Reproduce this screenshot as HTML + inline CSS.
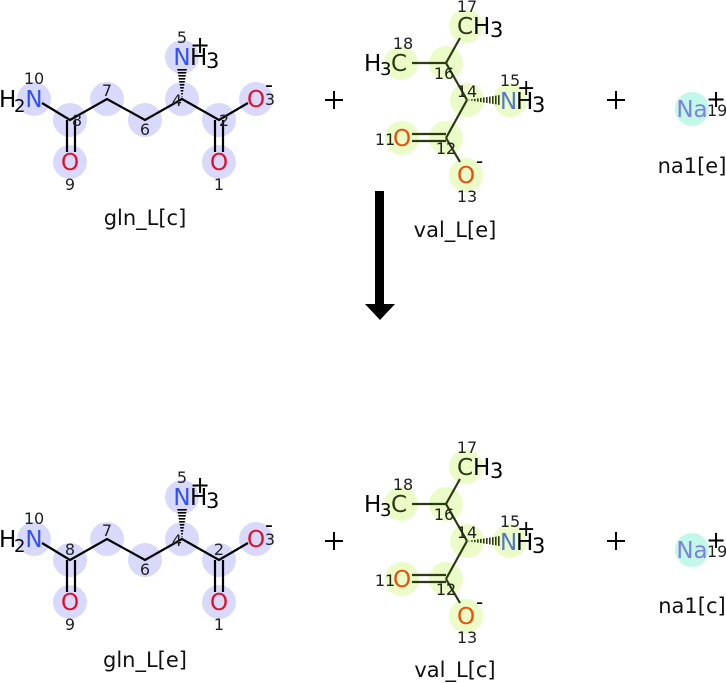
<!DOCTYPE html>
<html><head><meta charset="utf-8"><style>
html,body{margin:0;padding:0;background:#fff;}
svg{display:block;font-family:"DejaVu Sans","Liberation Sans",sans-serif;}
.a{font-size:23px;text-anchor:middle;}
.n{font-size:16px;fill:#222;text-anchor:middle;}
.lbl{font-size:21px;fill:#111;text-anchor:middle;}
.gc{fill:#d9d9fb;} .vc{fill:#ebfcc8;}
</style></head><body>
<svg width="726" height="683" viewBox="0 0 726 683" xmlns="http://www.w3.org/2000/svg">
<defs>
<pattern id="hz" width="2" height="3" patternUnits="userSpaceOnUse"><rect width="2" height="1.6" fill="#000"/></pattern>
<pattern id="vt" width="3" height="2" patternUnits="userSpaceOnUse"><rect width="1.6" height="2" fill="#2b3a10"/></pattern>
</defs>

<!-- ===== gln top ===== -->
<g>
<g class="gc">
<circle cx="34" cy="99" r="17"/><circle cx="70" cy="120" r="17"/><circle cx="107" cy="99" r="17"/>
<circle cx="145" cy="120" r="17"/><circle cx="182" cy="99" r="17"/><circle cx="182" cy="57" r="17"/>
<circle cx="219" cy="120" r="17"/><circle cx="256" cy="99" r="17"/><circle cx="70" cy="162" r="17"/><circle cx="219" cy="162" r="17"/>
</g>
<g stroke="#000" stroke-width="2.2" fill="none">
<polyline points="42,103 70,120 107,99 145,120 182,99 219,120 248,103"/>
<line x1="67" y1="120" x2="67" y2="152"/><line x1="75" y1="120" x2="75" y2="152"/>
<line x1="215" y1="120" x2="215" y2="152"/><line x1="223" y1="120" x2="223" y2="152"/>
</g>
<polygon points="182,99 177,68 187,68" fill="url(#hz)"/>
<text class="a" x="34" y="107" fill="#3050f8">N</text><text x="-1" y="107" font-size="23">H</text><text x="14" y="112" font-size="18">2</text>
<text class="a" x="182" y="65" fill="#3050f8">N</text><text x="190" y="65" font-size="23">H</text><text x="206" y="68" font-size="21">3</text>
<text x="190" y="53" font-size="24">+</text>
<text class="a" x="256" y="107" fill="#e0102a">O</text><text x="265" y="92" font-size="22">-</text>
<text class="a" x="70" y="170" fill="#e0102a">O</text><text class="a" x="219" y="170" fill="#e0102a">O</text>
<text class="n" x="34" y="84">10</text><text class="n" x="77" y="126">8</text><text class="n" x="107" y="96">7</text>
<text class="n" x="145" y="135">6</text><text class="n" x="177" y="106">4</text><text class="n" x="182" y="43">5</text>
<text class="n" x="224" y="126">2</text><text class="n" x="270" y="105">3</text><text class="n" x="70" y="190">9</text><text class="n" x="219" y="190">1</text>
<text class="lbl" x="145" y="225">gln_L[c]</text>
</g>

<!-- ===== gln bottom ===== -->
<g transform="translate(0,440)">
<g class="gc">
<circle cx="34" cy="99" r="17"/><circle cx="70" cy="120" r="17"/><circle cx="107" cy="99" r="17"/>
<circle cx="145" cy="120" r="17"/><circle cx="182" cy="99" r="17"/><circle cx="182" cy="57" r="17"/>
<circle cx="219" cy="120" r="17"/><circle cx="256" cy="99" r="17"/><circle cx="70" cy="162" r="17"/><circle cx="219" cy="162" r="17"/>
</g>
<g stroke="#000" stroke-width="2.2" fill="none">
<polyline points="42,103 70,120 107,99 145,120 182,99 219,120 248,103"/>
<line x1="67" y1="120" x2="67" y2="152"/><line x1="75" y1="120" x2="75" y2="152"/>
<line x1="215" y1="120" x2="215" y2="152"/><line x1="223" y1="120" x2="223" y2="152"/>
</g>
<polygon points="182,99 177,68 187,68" fill="url(#hz)"/>
<text class="a" x="34" y="107" fill="#3050f8">N</text><text x="-1" y="107" font-size="23">H</text><text x="14" y="112" font-size="18">2</text>
<text class="a" x="182" y="65" fill="#3050f8">N</text><text x="190" y="65" font-size="23">H</text><text x="206" y="68" font-size="21">3</text>
<text x="190" y="53" font-size="24">+</text>
<text class="a" x="256" y="107" fill="#e0102a">O</text><text x="265" y="92" font-size="22">-</text>
<text class="a" x="70" y="170" fill="#e0102a">O</text><text class="a" x="219" y="170" fill="#e0102a">O</text>
<text class="n" x="34" y="84">10</text><text class="n" x="70" y="115">8</text><text class="n" x="107" y="96">7</text>
<text class="n" x="145" y="135">6</text><text class="n" x="177" y="106">4</text><text class="n" x="182" y="43">5</text>
<text class="n" x="219" y="115">2</text><text class="n" x="270" y="105">3</text><text class="n" x="70" y="190">9</text><text class="n" x="219" y="190">1</text>
<text class="lbl" x="145" y="227">gln_L[e]</text>
</g>

<!-- ===== val top ===== -->
<g>
<g class="vc">
<circle cx="466" cy="26" r="17"/><circle cx="401" cy="63" r="17"/><circle cx="446" cy="63" r="17"/>
<circle cx="467" cy="100" r="17"/><circle cx="510" cy="100" r="17"/><circle cx="402" cy="138" r="17"/>
<circle cx="446" cy="138" r="17"/><circle cx="466" cy="175" r="17"/>
</g>
<g stroke="#2b3a10" stroke-width="2.2" fill="none">
<line x1="460" y1="38" x2="446" y2="63"/><line x1="412" y1="63" x2="446" y2="63"/>
<line x1="446" y1="63" x2="467" y2="100"/><line x1="467" y1="100" x2="446" y2="138"/>
<line x1="412" y1="134" x2="446" y2="134"/><line x1="412" y1="141" x2="446" y2="141"/>
<line x1="446" y1="138" x2="460" y2="162"/>
</g>
<polygon points="467,100 500,95 500,105" fill="url(#vt)"/>
<text x="457" y="34" font-size="23" fill="#2b3a10">C</text><text x="473" y="34" font-size="23">H</text><text x="490" y="37" font-size="21">3</text>
<text x="364" y="71" font-size="23">H</text><text x="380" y="75" font-size="18">3</text><text x="391" y="71" font-size="23" fill="#2b3a10">C</text>
<text x="500" y="109" font-size="23" fill="#5577c8">N</text><text x="516" y="109" font-size="23">H</text><text x="532" y="112" font-size="21">3</text>
<text x="517" y="95" font-size="22">+</text>
<text class="a" x="402" y="146" fill="#e8500a">O</text><text class="a" x="466" y="183" fill="#e8500a">O</text><text x="476" y="168" font-size="20">-</text>
<text class="n" x="467" y="12">17</text><text class="n" x="403" y="49">18</text><text class="n" x="444" y="79" fill="#2b3a10">16</text>
<text class="n" x="467" y="97" fill="#2b3a10">14</text><text class="n" x="510" y="86">15</text><text class="n" x="385" y="145">11</text>
<text class="n" x="446" y="154" fill="#2b3a10">12</text><text class="n" x="467" y="202">13</text>
<text class="lbl" x="455" y="237">val_L[e]</text>
</g>

<!-- ===== val bottom ===== -->
<g transform="translate(0,441)">
<g class="vc">
<circle cx="466" cy="26" r="17"/><circle cx="401" cy="63" r="17"/><circle cx="446" cy="63" r="17"/>
<circle cx="467" cy="100" r="17"/><circle cx="510" cy="100" r="17"/><circle cx="402" cy="138" r="17"/>
<circle cx="446" cy="138" r="17"/><circle cx="466" cy="175" r="17"/>
</g>
<g stroke="#2b3a10" stroke-width="2.2" fill="none">
<line x1="460" y1="38" x2="446" y2="63"/><line x1="412" y1="63" x2="446" y2="63"/>
<line x1="446" y1="63" x2="467" y2="100"/><line x1="467" y1="100" x2="446" y2="138"/>
<line x1="412" y1="134" x2="446" y2="134"/><line x1="412" y1="141" x2="446" y2="141"/>
<line x1="446" y1="138" x2="460" y2="162"/>
</g>
<polygon points="467,100 500,95 500,105" fill="url(#vt)"/>
<text x="457" y="34" font-size="23" fill="#2b3a10">C</text><text x="473" y="34" font-size="23">H</text><text x="490" y="37" font-size="21">3</text>
<text x="364" y="71" font-size="23">H</text><text x="380" y="75" font-size="18">3</text><text x="391" y="71" font-size="23" fill="#2b3a10">C</text>
<text x="500" y="109" font-size="23" fill="#5577c8">N</text><text x="516" y="109" font-size="23">H</text><text x="532" y="112" font-size="21">3</text>
<text x="517" y="95" font-size="22">+</text>
<text class="a" x="402" y="146" fill="#e8500a">O</text><text class="a" x="466" y="183" fill="#e8500a">O</text><text x="476" y="168" font-size="20">-</text>
<text class="n" x="467" y="12">17</text><text class="n" x="403" y="49">18</text><text class="n" x="444" y="79" fill="#2b3a10">16</text>
<text class="n" x="467" y="97" fill="#2b3a10">14</text><text class="n" x="510" y="86">15</text><text class="n" x="385" y="145">11</text>
<text class="n" x="446" y="154" fill="#2b3a10">12</text><text class="n" x="467" y="202">13</text>
<text class="lbl" x="455" y="236">val_L[c]</text>
</g>

<!-- ===== Na ===== -->
<g>
<circle cx="692" cy="109" r="17" fill="#c2f8ea"/>
<text class="a" x="692" y="117" fill="#8080d8">Na</text>
<text x="707" y="116" font-size="16" fill="#222">19</text><text x="706" y="107" font-size="24">+</text>
<text class="lbl" x="692" y="173">na1[e]</text>
</g>
<g transform="translate(0,441)">
<circle cx="692" cy="109" r="17" fill="#c2f8ea"/>
<text class="a" x="692" y="117" fill="#8080d8">Na</text>
<text x="707" y="116" font-size="16" fill="#222">19</text><text x="706" y="107" font-size="24">+</text>
<text class="lbl" x="692" y="172">na1[c]</text>
</g>

<!-- plus signs -->
<g stroke="#000" stroke-width="2">
<line x1="325" y1="100" x2="343" y2="100"/><line x1="334" y1="91" x2="334" y2="109"/>
<line x1="607" y1="100" x2="625" y2="100"/><line x1="616" y1="91" x2="616" y2="109"/>
<line x1="325" y1="541" x2="343" y2="541"/><line x1="334" y1="532" x2="334" y2="550"/>
<line x1="607" y1="541" x2="625" y2="541"/><line x1="616" y1="532" x2="616" y2="550"/>
</g>

<!-- arrow -->
<rect x="375" y="191" width="9" height="115" fill="#000"/>
<polygon points="365,304 395,304 380,320" fill="#000"/>
</svg>
</body></html>
